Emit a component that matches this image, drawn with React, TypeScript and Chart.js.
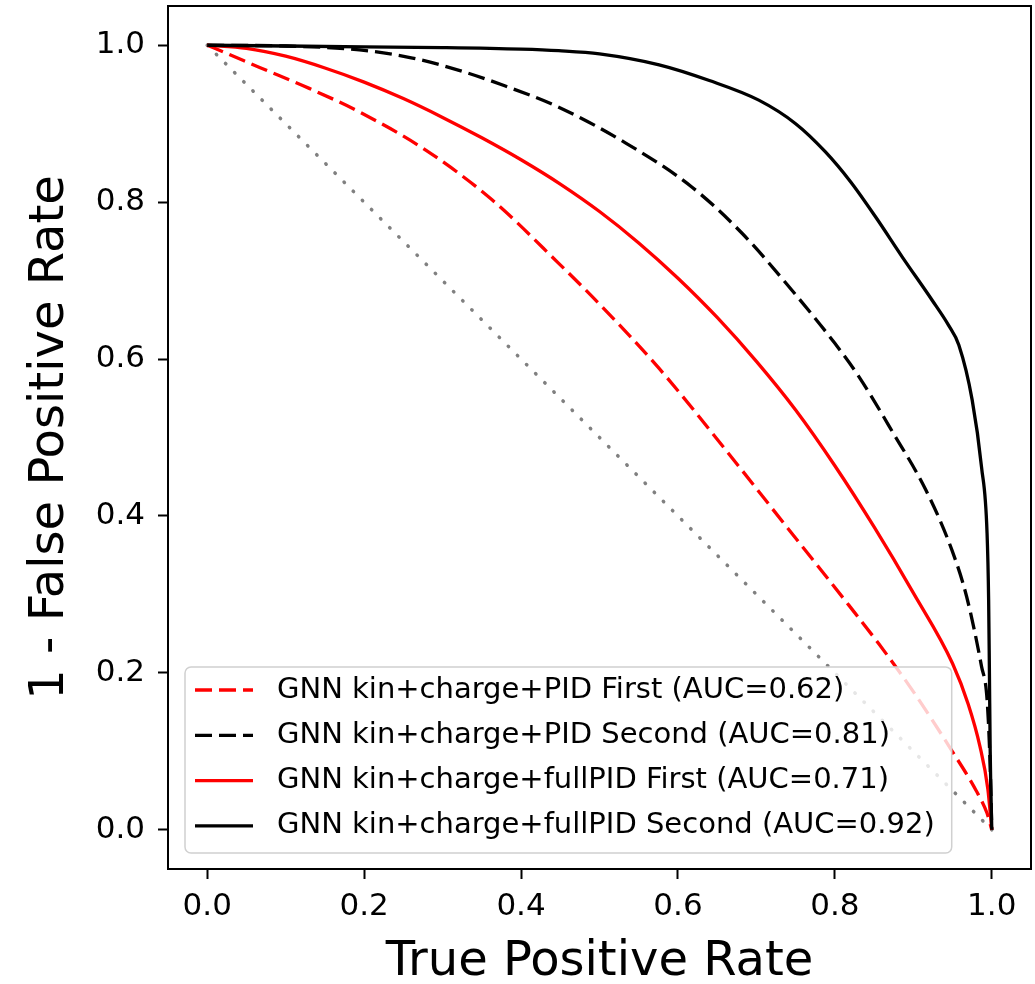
import { useEffect, useRef } from 'react';
import { Chart, registerables } from 'chart.js';

Chart.register(...registerables);

const xTicks = [0, 0.2, 0.4, 0.6, 0.8, 1.0];
const yTicks = [0, 0.2, 0.4, 0.6, 0.8, 1.0];

const labels = [
  'GNN kin+charge+PID First (AUC=0.62)',
  'GNN kin+charge+PID Second (AUC=0.81)',
  'GNN kin+charge+fullPID First (AUC=0.71)',
  'GNN kin+charge+fullPID Second (AUC=0.92)',
];

// GNN kin+charge+PID First
const pidFirstX = [0, 0.024, 0.066, 0.13, 0.194, 0.279, 0.363, 0.448, 0.5, 0.576, 0.661, 0.745, 0.818, 0.856, 0.898, 0.949, 0.98, 0.994, 1.0];
const pidFirstY = [1, 0.99, 0.972, 0.945, 0.915, 0.866, 0.803, 0.722, 0.67, 0.588, 0.484, 0.378, 0.286, 0.237, 0.179, 0.101, 0.05, 0.021, 0];

// GNN kin+charge+PID Second
const pidSecondX = [0, 0.1, 0.194, 0.26, 0.321, 0.38, 0.448, 0.534, 0.618, 0.682, 0.745, 0.8, 0.831, 0.873, 0.916, 0.949, 0.968, 0.987, 0.994, 0.998, 1.0];
const pidSecondY = [1, 0.999, 0.994, 0.984, 0.968, 0.948, 0.921, 0.875, 0.819, 0.76, 0.688, 0.62, 0.577, 0.508, 0.433, 0.357, 0.297, 0.208, 0.166, 0.08, 0];

// GNN kin+charge+fullPID First
const fullFirstX = [0, 0.05, 0.1, 0.15, 0.2, 0.25, 0.3, 0.35, 0.4, 0.45, 0.5, 0.55, 0.6, 0.65, 0.7, 0.75, 0.8, 0.85, 0.9, 0.95, 0.97, 0.985, 0.995, 1.0];
const fullFirstY = [1, 0.996, 0.986, 0.971, 0.953, 0.932, 0.908, 0.882, 0.854, 0.823, 0.788, 0.748, 0.703, 0.653, 0.597, 0.535, 0.464, 0.386, 0.302, 0.212, 0.16, 0.106, 0.052, 0];

// GNN kin+charge+fullPID Second
const fullSecondX = [0, 0.1, 0.2, 0.3, 0.4, 0.448, 0.5, 0.576, 0.64, 0.703, 0.75, 0.788, 0.82, 0.852, 0.886, 0.924, 0.945, 0.958, 0.975, 0.987, 0.994, 0.996, 0.997, 0.998, 1.0];
const fullSecondY = [1, 0.999, 0.998, 0.997, 0.995, 0.993, 0.989, 0.975, 0.955, 0.93, 0.9, 0.864, 0.826, 0.781, 0.73, 0.675, 0.643, 0.618, 0.548, 0.462, 0.378, 0.293, 0.2, 0.1, 0];

// random-guess diagonal
const diagX = [0, 1];
const diagY = [1, 0];

const toPoints = (xs: number[], ys: number[]) => xs.map((x, i) => ({ x, y: ys[i] }));

const FONT = "'DejaVu Sans', sans-serif";

const framePlugin = {
  id: 'frame',
  afterDatasetsDraw(chart: any) {
    const { ctx, chartArea } = chart;
    ctx.save();
    ctx.strokeStyle = '#000';
    ctx.lineWidth = 2;
    ctx.strokeRect(chartArea.left, chartArea.top, chartArea.right - chartArea.left, chartArea.bottom - chartArea.top);
    ctx.restore();
  },
};

const legendPlugin = {
  id: 'innerLegend',
  afterDraw(chart: any) {
    const { ctx, chartArea } = chart;
    const items = chart.data.datasets.filter((d: any) => d.label);
    ctx.save();
    ctx.font = `29px ${FONT}`;
    let maxW = 0;
    items.forEach((d: any) => {
      maxW = Math.max(maxW, ctx.measureText(d.label).width);
    });
    const rowH = 45.3;
    const left = chartArea.left + 17;
    const top = chartArea.bottom - 16 - 186;
    const w = 92 + maxW + 17;
    const h = 186;
    const r = 6;
    ctx.beginPath();
    ctx.moveTo(left + r, top);
    ctx.lineTo(left + w - r, top);
    ctx.arcTo(left + w, top, left + w, top + r, r);
    ctx.lineTo(left + w, top + h - r);
    ctx.arcTo(left + w, top + h, left + w - r, top + h, r);
    ctx.lineTo(left + r, top + h);
    ctx.arcTo(left, top + h, left, top + h - r, r);
    ctx.lineTo(left, top + r);
    ctx.arcTo(left, top, left + r, top, r);
    ctx.closePath();
    ctx.fillStyle = 'rgba(255,255,255,0.8)';
    ctx.fill();
    ctx.strokeStyle = '#d0d0d0';
    ctx.lineWidth = 1.5;
    ctx.stroke();

    items.forEach((d: any, i: number) => {
      const cy = top + 23 + i * rowH;
      ctx.beginPath();
      ctx.setLineDash(d.borderDash || []);
      ctx.strokeStyle = d.borderColor;
      ctx.lineWidth = d.borderWidth;
      ctx.moveTo(left + 10, cy);
      ctx.lineTo(left + 68, cy);
      ctx.stroke();
      ctx.setLineDash([]);
      ctx.fillStyle = '#000';
      ctx.textBaseline = 'middle';
      ctx.textAlign = 'left';
      ctx.fillText(d.label, left + 92, cy);
    });
    ctx.restore();
  },
};

export default function App() {
  const canvasRef = useRef<HTMLCanvasElement | null>(null);

  useEffect(() => {
    if (!canvasRef.current) return;
    const chart = new Chart(canvasRef.current, {
      type: 'line',
      data: {
        datasets: [
          {
            label: '',
            data: toPoints(diagX, diagY),
            borderColor: '#808080',
            borderWidth: 3.5,
            borderDash: [0.5, 12.4],
            borderCapStyle: 'round',
            pointRadius: 0,
            order: 5,
          },
          {
            label: labels[0],
            data: toPoints(pidFirstX, pidFirstY),
            borderColor: '#ff0000',
            borderWidth: 3.3,
            borderDash: [17, 7],
            pointRadius: 0,
            order: 4,
          },
          {
            label: labels[1],
            data: toPoints(pidSecondX, pidSecondY),
            borderColor: '#000000',
            borderWidth: 3.3,
            borderDash: [17, 7],
            pointRadius: 0,
            order: 3,
          },
          {
            label: labels[2],
            data: toPoints(fullFirstX, fullFirstY),
            borderColor: '#ff0000',
            borderWidth: 3.3,
            pointRadius: 0,
            order: 2,
          },
          {
            label: labels[3],
            data: toPoints(fullSecondX, fullSecondY),
            borderColor: '#000000',
            borderWidth: 3.3,
            pointRadius: 0,
            order: 1,
          },
        ],
      },
      options: {
        animation: false,
        responsive: false,
        devicePixelRatio: 1,
        layout: { padding: { top: 6, right: 4, left: 0, bottom: 0 } },
        plugins: { legend: { display: false }, tooltip: { enabled: false } },
        elements: { line: { cubicInterpolationMode: 'monotone' } },
        scales: {
          x: {
            type: 'linear',
            min: -0.05,
            max: 1.05,
            afterBuildTicks: (s: any) => {
              s.ticks = xTicks.map((v) => ({ value: v }));
            },
            afterFit: (s: any) => {
              s.height = 115;
              s.paddingLeft = 0;
              s.paddingRight = 0;
            },
            ticks: {
              callback: (v: any) => Number(v).toFixed(1),
              font: { family: FONT, size: 31 },
              color: '#000',
              padding: 9,
              maxRotation: 0,
              autoSkip: false,
            },
            grid: {
              display: true,
              drawOnChartArea: false,
              drawTicks: true,
              tickLength: 10,
              tickWidth: 2,
              tickColor: '#000',
            },
            border: { display: false },
            title: {
              display: true,
              text: 'True Positive Rate',
              color: '#000',
              font: { family: FONT, size: 48, lineHeight: 0.9 },
              padding: { top: 0, bottom: 0 },
            },
          },
          y: {
            type: 'linear',
            min: -0.05,
            max: 1.05,
            afterBuildTicks: (s: any) => {
              s.ticks = yTicks.map((v) => ({ value: v }));
            },
            afterFit: (s: any) => {
              s.width = 168;
              s.paddingTop = 0;
              s.paddingBottom = 0;
            },
            ticks: {
              callback: (v: any) => Number(v).toFixed(1),
              font: { family: FONT, size: 31 },
              color: '#000',
              padding: 13,
              autoSkip: false,
            },
            grid: {
              display: true,
              drawOnChartArea: false,
              drawTicks: true,
              tickLength: 10,
              tickWidth: 2,
              tickColor: '#000',
            },
            border: { display: false },
            title: {
              display: true,
              text: '1 - False Positive Rate',
              color: '#000',
              font: { family: FONT, size: 48, lineHeight: 1 },
              padding: { top: 27, bottom: 0 },
            },
          },
        },
      },
      plugins: [framePlugin, legendPlugin],
    } as any);
    return () => chart.destroy();
  }, []);

  return (
    <div style={{ position: 'absolute', left: 0, top: 0, width: 1035, height: 984, background: '#fff' }}>
      <canvas ref={canvasRef} width={1035} height={984} style={{ display: 'block' }} />
    </div>
  );
}
